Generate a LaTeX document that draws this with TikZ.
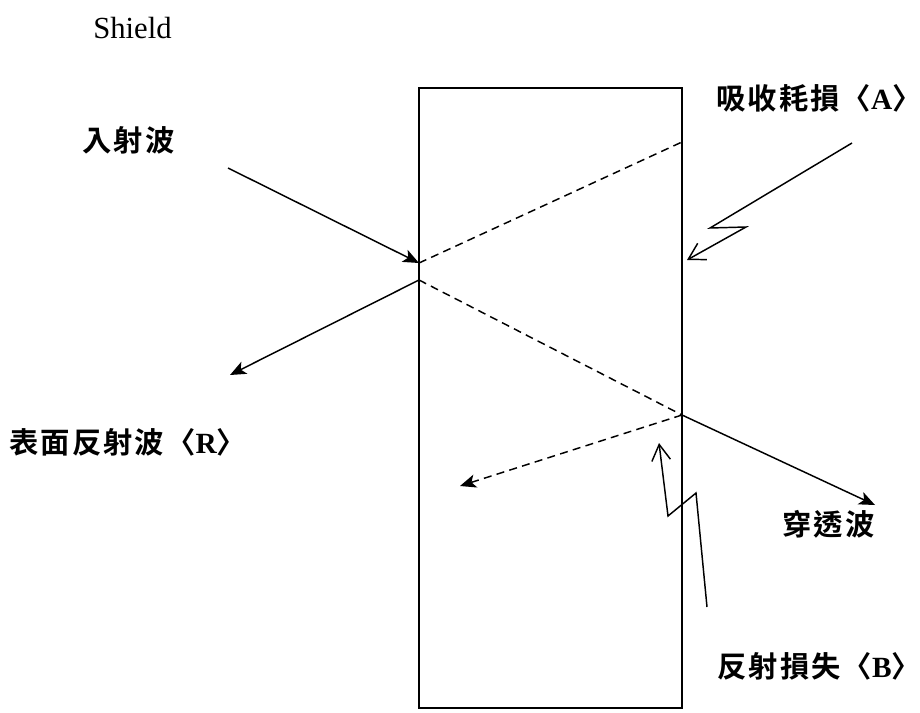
\documentclass[tikz,border=0pt]{standalone}
\usepackage{fontspec}
\setmainfont{Liberation Serif}
\newfontfamily\cjk{Noto Sans CJK TC}[BoldFont={Noto Sans CJK TC Bold},LetterSpace=7]
\usetikzlibrary{arrows.meta}
\begin{document}
\begin{tikzpicture}[x=0.75pt,y=-0.75pt,
  wave/.style={line width=1.1pt},
  dsh/.style={line width=1.1pt, dash pattern=on 6pt off 4pt},
  fillarrow/.style={-{Stealth[length=12pt,width=10pt,inset=3pt]}},
  openarrow/.style={-{Straight Barb[length=12pt,width=14pt]}},
  lbl/.style={font=\fontsize{22}{26}\selectfont\bfseries\cjk, inner sep=0pt, anchor=west},
  plain/.style={font=\fontsize{23}{27}\selectfont, inner sep=0pt, anchor=west}]
\useasboundingbox (0,0) rectangle (920,713);
% shield plate
\draw[line width=1.3pt] (419,88) rectangle (682,708);
\coordinate (inL) at (419,263);
\coordinate (reflL) at (419,280);
\coordinate (absR) at (682,142);
\coordinate (outR) at (682,415);
\coordinate (incS) at (228,168);
\coordinate (refE) at (230,375);
\coordinate (traE) at (875,505);
\coordinate (intE) at (460,486);
% zigzag A
\coordinate (zA0) at (852,143);
\coordinate (zA1) at (710,228);
\coordinate (zA2) at (746,227);
\coordinate (zA3) at (687,260);
% zigzag B
\coordinate (zB0) at (707,607);
\coordinate (zB1) at (696,493);
\coordinate (zB2) at (668,516);
\coordinate (zB3) at (659,443);
% labels
\node[plain] (shield) at (93,28) {Shield};
\node[lbl] (inc) at (82,140) {入射波};
\node[lbl] (absl) at (716,98) {吸收耗損〈{\rmfamily A}〉};
\node[lbl] (refl) at (9,442) {表面反射波〈{\rmfamily R}〉};
\node[lbl] (tra) at (782,524) {穿透波};
\node[lbl] (refloss) at (717,666) {反射損失〈{\rmfamily B}〉};
% waves
\draw[wave,fillarrow] (incS) -- (inL);
\draw[dsh] (inL) -- (absR);
\draw[wave,fillarrow] (reflL) -- (refE);
\draw[dsh] (reflL) -- (outR);
\draw[wave,fillarrow] (outR) -- (traE);
\draw[dsh,fillarrow] (outR) -- (intE);
\draw[wave,openarrow] (zA0) -- (zA1) -- (zA2) -- (zA3);
\draw[wave,openarrow] (zB0) -- (zB1) -- (zB2) -- (zB3);
\end{tikzpicture}
\end{document}
